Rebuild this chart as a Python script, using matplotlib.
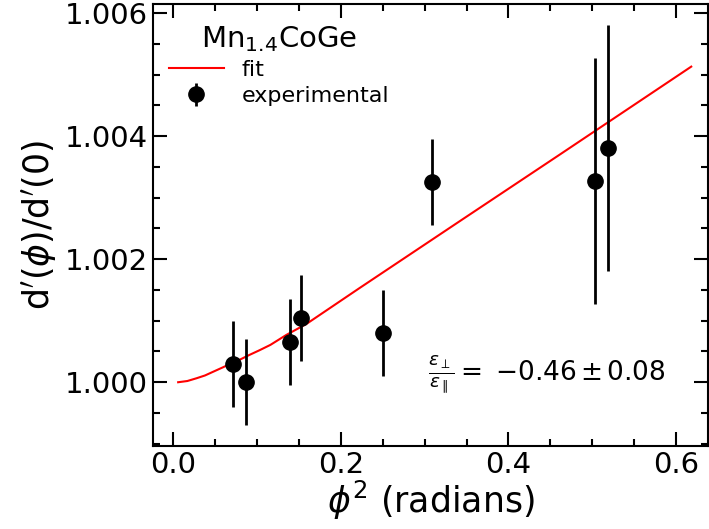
import numpy as np
import matplotlib
matplotlib.use("Agg")
import matplotlib.pyplot as plt

# experimental points: phi^2, d'(phi)/d'(0), error
phi2 = [0.0716, 0.0875, 0.140, 0.1527, 0.2504, 0.3085, 0.503, 0.519]
ratio = [1.00030, 1.00000, 1.00066, 1.00105, 1.00080, 1.00325, 1.00328, 1.00381]
err = [0.0007, 0.0007, 0.0007, 0.0007, 0.0007, 0.0007, 0.0020, 0.0020]

# fit curve
fit_x = [0.006, 0.017, 0.028, 0.038, 0.048, 0.059, 0.070, 0.080, 0.091,
         0.103, 0.116, 0.135, 0.159, 0.222, 0.341, 0.460, 0.618]
fit_y = [1.00000, 1.00002, 1.000065, 1.00011, 1.000172, 1.00024, 1.00031,
         1.00037, 1.000444, 1.00052, 1.000607, 1.000769, 1.000948,
         1.001528, 1.002611, 1.003691, 1.005132]

fig = plt.figure(figsize=(7.09, 5.29), dpi=100)
ax = fig.add_axes([0.2158, 0.157, 0.7828, 0.8354])

ax.plot(fit_x, fit_y, color="red", lw=1.5, label="fit")
ax.errorbar(phi2, ratio, yerr=err, fmt="o", color="black", ms=11,
            elinewidth=2, capsize=0, label="experimental", zorder=3)

ax.set_xlim(-0.024, 0.638)
ax.set_ylim(0.998964, 1.00615)
ax.set_xticks([0.0, 0.2, 0.4, 0.6])
ax.set_yticks([1.000, 1.002, 1.004, 1.006])
ax.set_xticks(np.arange(0, 0.64, 0.05), minor=True)
ax.set_yticks(np.arange(0.999, 1.0062, 0.0005), minor=True)
ax.set_yticklabels(["1.000", "1.002", "1.004", "1.006"])
ax.set_xticklabels(["0.0", "0.2", "0.4", "0.6"])

ax.tick_params(which="both", direction="in", top=True, right=True,
               labelsize=21, width=1.5)
ax.tick_params(which="major", length=10)
ax.tick_params(which="minor", length=5)
for s in ax.spines.values():
    s.set_linewidth(1.5)

ax.set_xlabel(r"$\phi^2$ (radians)", fontsize=25, labelpad=0)
ax.set_ylabel(r"d$^{\prime}$($\phi$)/d$^{\prime}$(0)", fontsize=25, labelpad=4)

leg = ax.legend(loc="upper left", frameon=False, fontsize=16,
                title=r"Mn$_{1.4}$CoGe", title_fontsize=21,
                bbox_to_anchor=(0.0, 0.99), borderaxespad=0.3,
                labelspacing=0.28, handlelength=2.5, handletextpad=0.8)

ax.text(0.71, 0.161,
        r"$\frac{\varepsilon_\perp}{\varepsilon_\parallel}{=}\;{-}0.46\,{\pm}\,0.08$",
        transform=ax.transAxes, fontsize=19, ha="center", va="center")

fig.savefig("out.png", dpi=100)
